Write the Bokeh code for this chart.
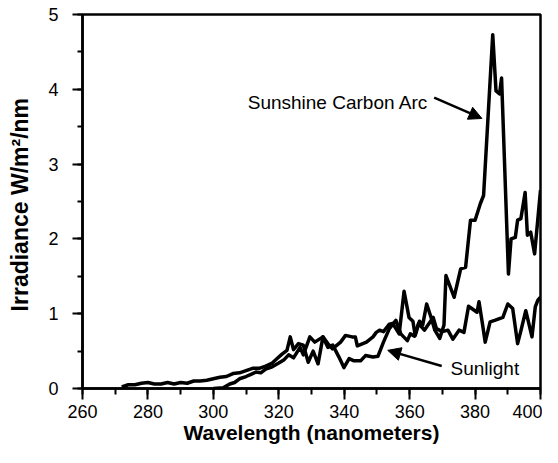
from bokeh.plotting import figure
from bokeh.models import Range1d, SingleIntervalTicker, Label, Arrow, NormalHead, ColumnDataSource
from bokeh.embed import file_html
from bokeh.resources import INLINE

# ---- data ----
sun_nm = [272, 274, 276, 278, 280, 282, 284, 286, 288, 290, 292, 294, 296, 298, 300, 302, 304, 306, 308,
          310, 312, 314, 316, 318, 319.5, 321, 322.5, 323.5, 324.5, 326, 327.5, 329, 330.5, 332, 333.5,
          335, 336.5, 338.4, 339.9, 341.5, 343, 345, 346.5, 348.8, 350.3, 352, 353.8, 355.8, 357.3,
          359.3, 360.2, 361.5, 362.7, 364.5, 367.2, 368.2, 370, 371.7, 373.2, 375.1, 376.6, 378,
          380.6, 381.2, 382.1, 383.1, 384.6, 386, 388.5, 390, 391.5, 393, 394, 395.5, 397.4, 398.4,
          399.2, 400]
sun_val = [0.02, 0.05, 0.05, 0.07, 0.08, 0.06, 0.06, 0.08, 0.06, 0.08, 0.07, 0.10, 0.10, 0.11, 0.13,
           0.15, 0.16, 0.20, 0.21, 0.24, 0.27, 0.27, 0.30, 0.34, 0.40, 0.46, 0.51, 0.69, 0.52, 0.60,
           0.58, 0.35, 0.50, 0.33, 0.69, 0.55, 0.58, 0.42, 0.28, 0.40, 0.37, 0.37, 0.44, 0.42, 0.43,
           0.62, 0.80, 0.91, 0.73, 0.64, 0.73, 0.70, 0.87, 0.78, 0.95, 0.80, 0.76, 0.78, 0.66, 0.78,
           0.75, 1.10, 1.02, 1.16, 0.91, 0.62, 0.89, 0.91, 0.95, 1.13, 1.07, 0.60, 0.77, 1.04, 0.69,
           1.09, 1.18, 1.22]

arc_nm = [300, 303, 305, 306.5, 308, 310, 311.5, 313, 314.5, 316, 318, 320, 321.5, 323, 324.5, 326.5,
          327.5, 329.5, 331, 333.5, 335, 336.4, 338.9, 340.4, 342.4, 343.4, 344, 346.8, 348.8, 349.8,
          350.8, 352, 353.8, 354.8, 356.8, 358.3, 359.8, 361, 361.7, 363, 364, 365.2, 366.7, 367.7,
          369.2, 370.5, 371.1, 373.6, 375.6, 377.1, 378.6, 380, 381.6, 382.6, 385.4, 386.4, 387.5,
          388.1, 390.2, 391, 392.3, 393, 394, 395.3, 396, 397, 398.2, 400]
arc_val = [0.00, 0.01, 0.06, 0.08, 0.13, 0.16, 0.19, 0.22, 0.21, 0.26, 0.29, 0.34, 0.38, 0.45, 0.41,
           0.55, 0.45, 0.69, 0.62, 0.69, 0.60, 0.53, 0.62, 0.71, 0.69, 0.69, 0.57, 0.62, 0.69, 0.75,
           0.78, 0.76, 0.86, 0.87, 0.73, 1.30, 0.95, 0.90, 0.71, 0.90, 0.85, 1.13, 0.93, 0.78, 0.67,
           0.85, 1.51, 1.22, 1.60, 1.62, 2.25, 2.25, 2.47, 2.58, 4.73, 3.98, 3.94, 4.15, 1.53, 2.00,
           2.02, 2.25, 2.27, 2.62, 2.05, 2.09, 1.80, 2.65]

x_ticks_interval = 20
y_ticks_interval = 1
x_title = "Wavelength (nanometers)"
y_title = "Irradiance  W/m\u00b2/nm"
arc_label = "Sunshine Carbon Arc"
sun_label = "Sunlight"

FONT = "Liberation Sans"

p = figure(width=542, height=447, output_backend="svg", toolbar_location=None,
           x_range=Range1d(260, 400), y_range=Range1d(0, 5),
           min_border_left=82, min_border_right=2, min_border_top=14, min_border_bottom=59)
p.background_fill_color = "white"
p.border_fill_color = "white"
p.outline_line_color = "black"
p.outline_line_width = 2.5
p.xgrid.visible = False
p.ygrid.visible = False

p.xaxis.ticker = SingleIntervalTicker(interval=x_ticks_interval, num_minor_ticks=2)
p.yaxis.ticker = SingleIntervalTicker(interval=y_ticks_interval, num_minor_ticks=2)
for ax in (p.xaxis, p.yaxis):
    ax.axis_line_color = "black"
    ax.axis_line_width = 2.5
    ax.major_tick_line_color = "black"
    ax.minor_tick_line_color = "black"
    ax.major_tick_line_width = 2
    ax.minor_tick_line_width = 2
    ax.major_tick_in = 0
    ax.minor_tick_in = 0
    ax.major_label_text_font = FONT
    ax.major_label_text_font_size = "18px"
    ax.major_label_text_color = "black"
    ax.axis_label_text_font = FONT
    ax.axis_label_text_font_style = "bold"
    ax.axis_label_text_color = "black"
p.xaxis.major_tick_out = 11
p.xaxis.minor_tick_out = 6
p.yaxis.major_tick_out = 10
p.yaxis.minor_tick_out = 5
p.xaxis.major_label_standoff = 5
p.yaxis.major_label_standoff = 14

p.xaxis.axis_label = x_title
p.xaxis.axis_label_text_font_size = "21px"
p.xaxis.axis_label_standoff = 0
p.yaxis.axis_label = y_title
p.yaxis.axis_label_text_font_size = "23px"
p.yaxis.axis_label_standoff = 12

src_sun = ColumnDataSource(dict(x=sun_nm, y=sun_val))
src_arc = ColumnDataSource(dict(x=arc_nm, y=arc_val))
p.line("x", "y", source=src_sun, line_color="black", line_width=3.5, line_join="round")
p.line("x", "y", source=src_arc, line_color="black", line_width=3.5, line_join="round")

# annotation text and arrows
p.add_layout(Label(x=310.5, y=3.83, text=arc_label, text_font=FONT, text_font_size="19px",
                   text_color="black", text_align="left", text_baseline="alphabetic"))
p.add_layout(Arrow(end=NormalHead(size=13, fill_color="black", line_color="black", line_width=1),
                   x_start=367.5, y_start=3.89, x_end=382.1, y_end=3.61,
                   line_color="black", line_width=2.5))
p.add_layout(Label(x=372.5, y=0.263, text=sun_label, text_font=FONT, text_font_size="19px",
                   text_color="black", text_align="left", text_baseline="alphabetic"))
p.add_layout(Arrow(end=NormalHead(size=13, fill_color="black", line_color="black", line_width=1),
                   x_start=369.8, y_start=0.30, x_end=353.3, y_end=0.51,
                   line_color="black", line_width=2.5))

open("out.html", "w").write(file_html(p, INLINE))
